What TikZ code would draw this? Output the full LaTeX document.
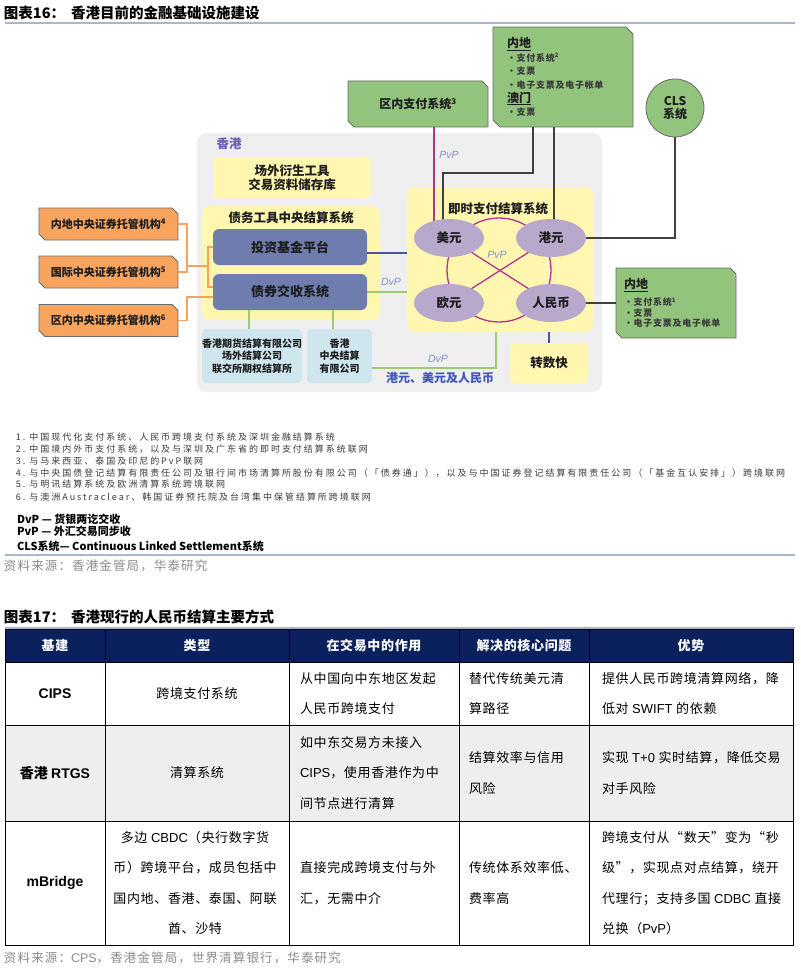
\documentclass[tikz,border=0pt]{standalone}
\usepackage{fontspec}
\setmainfont{Noto Sans CJK SC}
\newfontfamily\lat{Liberation Sans}
\newfontfamily\fnfont[LetterSpace=22]{Noto Sans CJK SC}
\newfontfamily\itemfont[LetterSpace=8]{Noto Sans CJK SC}
\newfontfamily\tbfont[LetterSpace=5]{Noto Sans CJK SC}
\newfontfamily\srcfont[LetterSpace=9]{Noto Sans CJK SC}
\usetikzlibrary{shapes.geometric}
\newcommand\fsz[2]{\fontsize{#1}{#2}\selectfont}
\definecolor{hkgray}{HTML}{EFEFEF}
\definecolor{ylw}{HTML}{FFF7B0}
\definecolor{slate}{HTML}{6F7DAE}
\definecolor{lblue}{HTML}{CFE6EE}
\definecolor{orng}{HTML}{F8A45F}
\definecolor{grn}{HTML}{93C47D}
\definecolor{lav}{HTML}{B8A8CC}
\definecolor{mag}{HTML}{B5338F}
\definecolor{gline}{HTML}{9CCB73}
\definecolor{oline}{HTML}{F7A35C}
\definecolor{bline}{HTML}{4B52A8}
\definecolor{dline}{HTML}{404040}
\definecolor{navy}{HTML}{0B215E}
\definecolor{rulec}{HTML}{A9B7CA}
\definecolor{rowg}{HTML}{EEEEEE}
\definecolor{srcg}{HTML}{8C8C8C}
\definecolor{bordc}{HTML}{6A6A6A}
\definecolor{pvpc}{HTML}{8790C8}
\definecolor{hkpur}{HTML}{6A5FB8}
\definecolor{hkblue}{HTML}{4257B8}
\definecolor{txt}{HTML}{1E1E1E}
\definecolor{fnc}{HTML}{3A3A3A}
\pgfdeclarelayer{back}
\pgfdeclarelayer{lines}
\pgfsetlayers{back,lines,main}
\newcommand\chamf[3]{%
  \filldraw[fill=#2, draw=bordc, line width=0.8pt] (#1.north west) -- ([xshift=-#3]#1.north east) -- ([yshift=-#3]#1.north east) -- (#1.south east) -- ([xshift=#3]#1.south west) -- ([yshift=#3]#1.south west) -- cycle;}
\begin{document}
\begin{tikzpicture}[x=1pt, y=-1pt,
  every node/.style={inner sep=0pt, outer sep=0pt},
  ybox/.style={anchor=north west, fill=ylw, rounded corners=6pt, align=center, font=\bfseries\fsz{12.5}{14}, text=txt},
  sbox/.style={anchor=north west, fill=slate, rounded corners=6pt, font=\bfseries\fsz{13}{15}, text=txt, minimum width=154pt, minimum height=36pt},
  lbbox/.style={anchor=north west, fill=lblue, rounded corners=4pt, align=center, font=\bfseries\fsz{10}{12.5}, text=txt},
  obox/.style={minimum width=139pt, minimum height=32pt, font=\bfseries\fsz{11}{13}, text=txt},
  gbox/.style={font=\bfseries\fsz{12}{14}, text=txt},
  ell/.style={ellipse, fill=lav, minimum width=70pt, minimum height=38pt, font=\bfseries\fsz{12.5}{14}, text=txt},
  lab/.style={font=\lat\itshape\fsz{10.5}{12}, text=pvpc},
  magl/.style={draw=mag, line width=1.3pt},
  dkl/.style={draw=dline, line width=1.3pt},
  gl/.style={draw=gline, line width=1.3pt},
  bl/.style={draw=bline, line width=1.5pt},
  ol/.style={draw=oline, line width=1.3pt},
  fn/.style={anchor=west, font=\fnfont\fsz{9}{10}, text=fnc},
  dfn/.style={anchor=west, font=\bfseries\fsz{11}{13}, text=black},
  src/.style={anchor=west, font=\srcfont\fsz{12.5}{14}, text=srcg},
  ttl/.style={anchor=west, font=\bfseries\fsz{14.5}{17}, text=black},
  rule/.style={draw=rulec, line width=1.6pt},
  th/.style={font=\tbfont\bfseries\fsz{13}{15}, text=white},
  cell/.style={anchor=west, align=left, font=\tbfont\fsz{13}{30.5}, text=black},
  ccell/.style={align=center, font=\tbfont\fsz{13}{30.5}, text=black},
  kcell/.style={font=\bfseries\fsz{14}{16}, text=black},
  grid/.style={draw=black, line width=0.9pt}
]
\useasboundingbox (0,0) rectangle (800,971);
\begin{pgfonlayer}{back}
  \fill[white] (0,0) rectangle (800,971);
  \node[anchor=north west, fill=hkgray, rounded corners=10pt, minimum width=405pt, minimum height=259pt] (hk) at (197,133) {};
  \node[ybox, minimum width=158pt, minimum height=41pt] (otc) at (213,157) {场外衍生工具\\交易资料储存库};
  \node[ybox, minimum width=178pt, minimum height=114pt, rounded corners=8pt] (cmu) at (202,206) {};
  \node[ybox, minimum width=186pt, minimum height=145pt, rounded corners=8pt] (rt) at (407,187) {};
  \node[ybox, minimum width=78pt, minimum height=40pt, rounded corners=4pt] (fps) at (510,343) {转数快};
\end{pgfonlayer}

% title
\node[ttl] (t16) at (4,13) {图表16：\hspace{6pt}香港目前的金融基础设施建设};
\draw[rule] (5,23) -- (795,23);

% Hong Kong internals
\node[font=\bfseries\fsz{12.5}{14}, text=hkpur] (hklab) at (229,144) {香港};
\node[font=\bfseries\fsz{12.5}{14}, text=txt] (cmut) at (291,218) {债务工具中央结算系统};
\node[sbox] (inv) at (213,229) {投资基金平台};
\node[sbox] (bond) at (213,274) {债券交收系统};
\node[lbbox, minimum width=100pt, minimum height=54pt] (hkfe) at (202,329) {香港期货结算有限公司\\场外结算公司\\联交所期权结算所};
\node[lbbox, minimum width=65pt, minimum height=54pt] (hkcc) at (307,329) {香港\\中央结算\\有限公司};

\node[font=\bfseries\fsz{12.5}{14}, text=txt] (rtt) at (498,209) {即时支付结算系统};
\node[ell] (usd) at (449,238) {美元};
\node[ell] (hkd) at (551,238) {港元};
\node[ell] (eur) at (449,303) {欧元};
\node[ell] (rmb) at (551,303) {人民币};
\node[lab] (pvp2) at (497,255) {PvP};
\node[lab] (pvp1) at (449,155) {PvP};
\node[lab] (dvp1) at (391,282) {DvP};
\node[lab] (dvp2) at (438,359) {DvP};
\node[font=\bfseries\fsz{12}{14}, text=hkblue] (ccy) at (440,378) {港元、美元及人民币};

% outside boxes
\node[obox] (o1) at (108.5,224) {内地中央证券托管机构\textsuperscript{4}};
\node[obox] (o2) at (108.5,272) {国际中央证券托管机构\textsuperscript{5}};
\node[obox] (o3) at (108.5,320.5) {区内中央证券托管机构\textsuperscript{6}};
\node[gbox, minimum width=140pt, minimum height=46pt] (qn) at (418,104) {区内支付系统\textsuperscript{3}};
\node[gbox, font=\bfseries\fsz{12}{13.6}, minimum width=140pt, minimum height=100pt, text width=112pt, inner xsep=14pt, align=left] (md) at (563,77)
  {\underline{内地}\\
   {\itemfont\fsz{9}{10}\color{fnc}·支付系统\textsuperscript{2}}\\
   {\itemfont\fsz{9}{10}\color{fnc}·支票}\\
   {\itemfont\fsz{9}{10}\color{fnc}·电子支票及电子帐单}\\
   \underline{澳门}\\
   {\itemfont\fsz{9}{10}\color{fnc}·支票}};
\node[circle, fill=grn, draw=bordc, line width=0.8pt, minimum size=58pt, align=center, font=\bfseries\fsz{12}{13}, text=txt] (cls) at (675,108) {CLS\\系统};
\node[gbox, font=\bfseries\fsz{12}{10.5}, minimum width=120pt, minimum height=70pt, text width=104pt, inner xsep=8pt, align=left] (nd2) at (676,303)
  {\underline{内地}\\[5pt]
   {\itemfont\fsz{9}{10}\color{fnc}·支付系统\textsuperscript{1}}\\
   {\itemfont\fsz{9}{10}\color{fnc}·支票}\\
   {\itemfont\fsz{9}{10}\color{fnc}·电子支票及电子帐单}};

\begin{pgfonlayer}{back}
  \chamf{o1}{orng}{6pt}
  \chamf{o2}{orng}{6pt}
  \chamf{o3}{orng}{6pt}
  \chamf{qn}{grn}{6pt}
  \chamf{md}{grn}{7pt}
  \chamf{nd2}{grn}{6pt}
\end{pgfonlayer}

\begin{pgfonlayer}{lines}
  \coordinate (ja) at (187,266);
  \coordinate (jb) at (208,266);
  \draw[ol] (o1.east) -- (o1.east -| ja) -- (o2.east -| ja) -- (o2.east);
  \draw[ol] (ja) -- (jb);
  \draw[ol] (inv.west) -- (inv.west -| jb) -- ([yshift=5pt]bond.west -| jb) -- ([yshift=5pt]bond.west);
  \draw[ol] (o3.east) -- (o3.east -| ja) -- ([yshift=-5pt]bond.west -| ja) -- ([yshift=-5pt]bond.west);
  \draw[gl] ([xshift=-3pt]hkfe.north) -- ([xshift=-3pt]hkfe.north |- bond.south);
  \draw[gl] ([xshift=-6.5pt]hkcc.north) -- ([xshift=-6.5pt]hkcc.north |- bond.south);
  \draw[bl] ([yshift=-6pt]inv.east) -- ([yshift=-6pt]inv.east -| rt.west);
  \draw[gl] (bond.east) -- (bond.east -| rt.west);
  \draw[gl] ([yshift=-12pt]hkcc.east) -| ([xshift=-4pt]rt.south);
  \draw[bl] (fps.north) -- (fps.north |- rt.south);
  \node[circle, magl, minimum size=104pt] (ring) at (499,270) {};
  \draw[magl] (usd.center) -- (rmb.center);
  \draw[magl] (hkd.center) -- (eur.center);
  \draw[magl] ([xshift=16pt]qn.south) -- ([xshift=16pt]qn.south |- usd.center);
  \draw[dkl] ([xshift=-30pt]md.south) -- ++(0,46) -| ([xshift=-6pt]usd.center);
  \draw[dkl] ([xshift=-9pt]md.south) -- ([xshift=-9pt]md.south |- hkd.center);
  \draw[dkl] (cls.south) |- (hkd.center);
  \draw[dkl] (rmb.center) -- (nd2.west);
\end{pgfonlayer}

% footnotes
\node[fn] (f1) at (16,437) {1.\ 中国现代化支付系统、人民币跨境支付系统及深圳金融结算系统};
\node[fn] (f2) at (16,449.5) {2.\ 中国境内外币支付系统，以及与深圳及广东省的即时支付结算系统联网};
\node[fn] (f3) at (16,461.5) {3.\ 与马来西亚、泰国及印尼的PvP联网};
\node[fn] (f4) at (16,473) {4.\ 与中央国债登记结算有限责任公司及银行间市场清算所股份有限公司（「债券通」），以及与中国证券登记结算有限责任公司（「基金互认安排」）跨境联网};
\node[fn] (f5) at (16,484.5) {5.\ 与明讯结算系统及欧洲清算系统跨境联网};
\node[fn] (f6) at (16,497) {6.\ 与澳洲Austraclear、韩国证券预托院及台湾集中保管结算所跨境联网};
\node[dfn] (d1) at (17,519) {DvP — 货银两讫交收};
\node[dfn] (d2) at (17,531) {PvP — 外汇交易同步收};
\node[dfn] (d3) at (17,546) {CLS系统— Continuous Linked Settlement系统};
\draw[rule] (5,555) -- (795,555);
\node[src] (s1) at (4,566) {资料来源：香港金管局，华泰研究};

% table
\node[ttl] (t17) at (4,617) {图表17：\hspace{6pt}香港现行的人民币结算主要方式};
\draw[rule] (5,628) -- (795,628);
\fill[navy] (5,629) rectangle (793,662);
\fill[rowg] (5,725) rectangle (793,821);
\draw[grid] (5,629) rectangle (793,945);
\foreach \yy in {662,725,821} \draw[grid] (5,\yy) -- (793,\yy);
\foreach \xx in {105,289,459,589} \draw[grid] (\xx,629) -- (\xx,945);

\node[th] (h1) at (55,646) {基建};
\node[th] (h2) at (197,646) {类型};
\node[th] (h3) at (374,646) {在交易中的作用};
\node[th] (h4) at (524,646) {解决的核心问题};
\node[th] (h5) at (691,646) {优势};

\node[kcell] (k1) at (55,693.5) {\lat CIPS};
\node[ccell] (a2) at (197,693.5) {跨境支付系统};
\node[cell] (a3) at (300,693.5) {从中国向中东地区发起\\人民币跨境支付};
\node[cell] (a4) at (469,693.5) {替代传统美元清\\算路径};
\node[cell] (a5) at (602,693.5) {提供人民币跨境清算网络，降\\低对 {\lat SWIFT} 的依赖};

\node[kcell] (k2) at (55,773) {香港 {\lat RTGS}};
\node[ccell] (b2) at (197,773) {清算系统};
\node[cell] (b3) at (300,773) {如中东交易方未接入\\{\lat CIPS}，使用香港作为中\\间节点进行清算};
\node[cell] (b4) at (469,773) {结算效率与信用\\风险};
\node[cell] (b5) at (602,773) {实现 {\lat T+0} 实时结算，降低交易\\对手风险};

\node[kcell] (k3) at (55,883) {\lat mBridge};
\node[ccell] (c2) at (195,883) {多边 {\lat CBDC}（央行数字货\\币）跨境平台，成员包括中\\国内地、香港、泰国、阿联\\酋、沙特};
\node[cell] (c3) at (300,883) {直接完成跨境支付与外\\汇，无需中介};
\node[cell] (c4) at (469,883) {传统体系效率低、\\费率高};
\node[cell] (c5) at (602,883) {跨境支付从“数天”变为“秒\\级”，实现点对点结算，绕开\\代理行；支持多国 {\lat CDBC} 直接\\兑换（{\lat PvP}）};

\node[src] (s2) at (4,958) {资料来源：{\lat CPS}，香港金管局，世界清算银行，华泰研究};
\end{tikzpicture}
\end{document}
